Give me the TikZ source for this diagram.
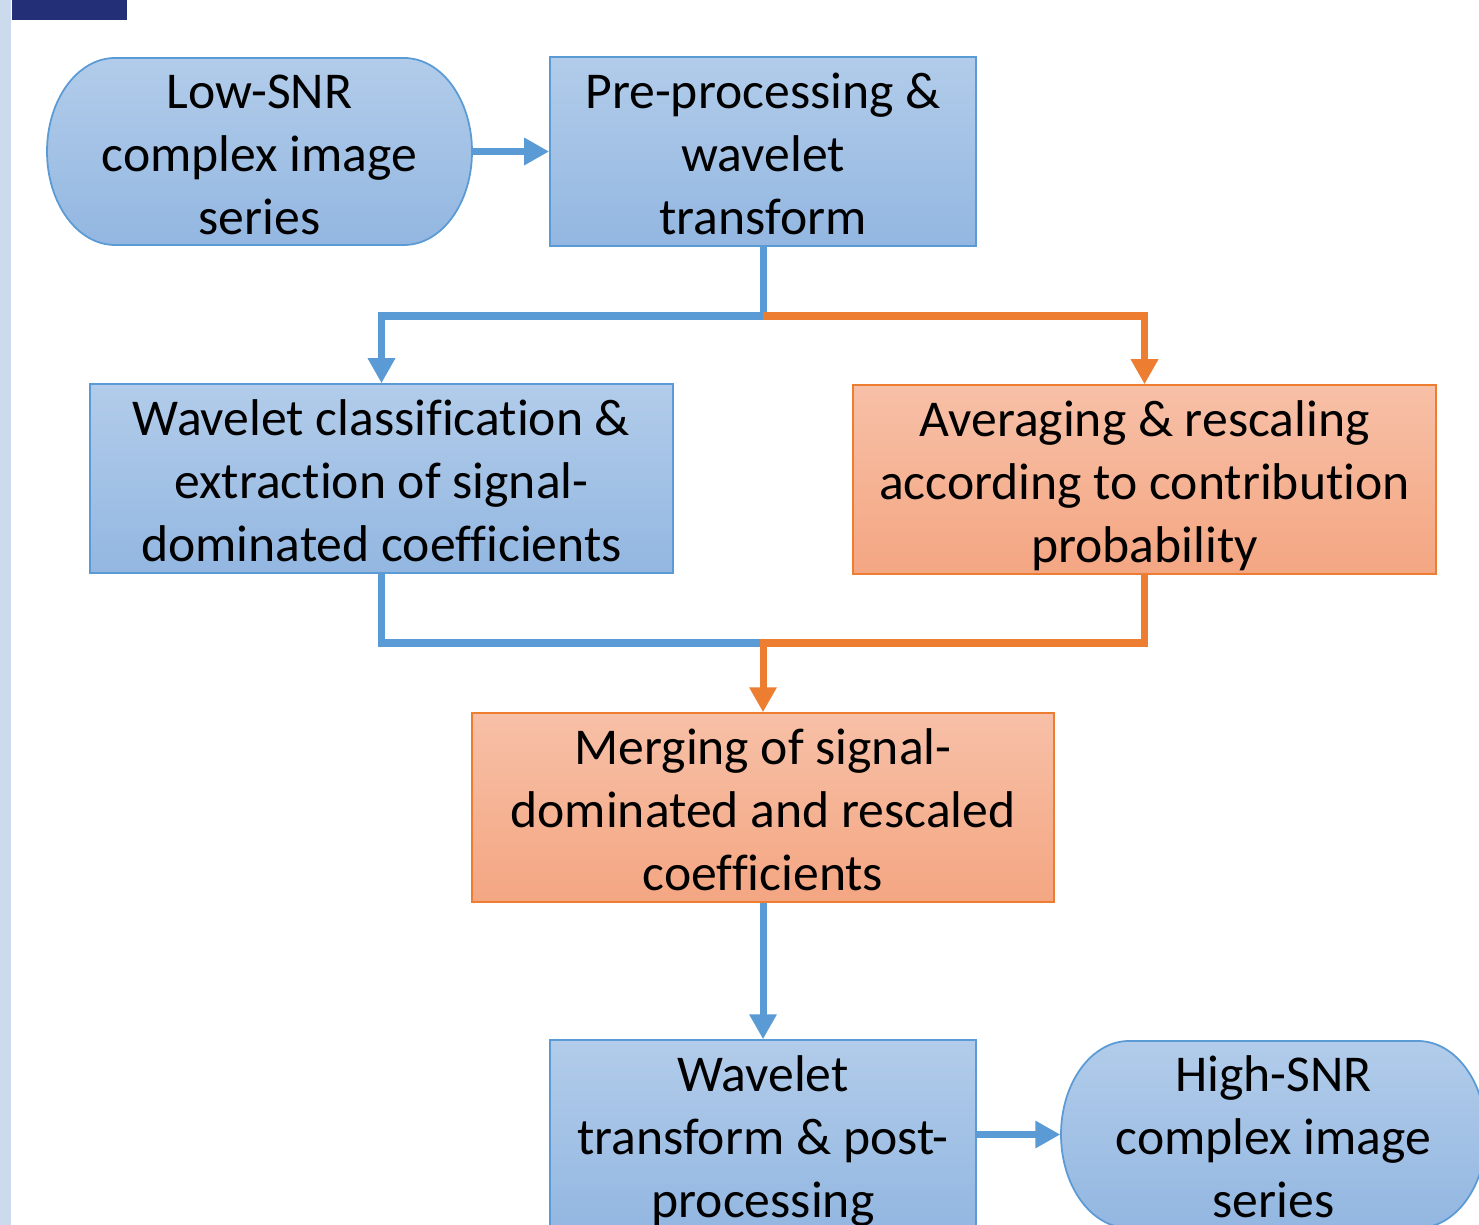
\documentclass[tikz,border=0pt]{standalone}
\usepackage{fontspec}
\usepackage{array}
\setmainfont{Carlito}[Ligatures={NoCommon,NoContextual}]
\usetikzlibrary{arrows.meta,calc}
\definecolor{bdblue}{HTML}{5B9BD5}
\definecolor{bdorange}{HTML}{ED7D31}
\definecolor{btop}{HTML}{B2CCEA}
\definecolor{bbot}{HTML}{93B7E1}
\definecolor{otop}{HTML}{F7C0A7}
\definecolor{obot}{HTML}{F4A682}
\definecolor{strip}{HTML}{CCDAEE}
\definecolor{navy}{HTML}{233077}
\newcommand{\mystrut}{\rule[-3.25pt]{0pt}{17.9pt}}
\newcommand{\ml}[1]{{\renewcommand\arraystretch{0}\setlength\extrarowheight{0pt}\begin{tabular}{@{}>{\mystrut}c@{}}#1\end{tabular}}}
\tikzset{
  txt/.style={font=\fontsize{14.7pt}{17.9pt}\selectfont, inner sep=0pt},
  bluebox/.style={txt, draw=bdblue, line width=0.5pt, top color=btop, bottom color=bbot, rectangle},
  orangebox/.style={txt, draw=bdorange, line width=0.5pt, top color=otop, bottom color=obot, rectangle},
  termnode/.style={txt, rectangle, draw=none},
  termshape/.style={draw=bdblue, line width=0.5pt, top color=btop, bottom color=bbot},
  bline/.style={draw=bdblue, line width=2pt},
  oline/.style={draw=bdorange, line width=2pt},
  tip/.style={-{Triangle[width=0.26cm,length=0.25cm]}},
}
\begin{document}
\begin{tikzpicture}
\clip (0,0) rectangle (14.79,-12.25);
\fill[white] (0,0) rectangle (14.79,-12.25);
\fill[strip] (0,0) rectangle (0.11,-12.25);
\fill[navy] (0.12,0) rectangle (1.27,-0.20);

% terminator shapes
\path[termshape] (1.15,-0.58) -- (4.04,-0.58) arc[start angle=90, end angle=-90, x radius=0.68, y radius=0.935] -- (1.15,-2.45) arc[start angle=270, end angle=90, x radius=0.68, y radius=0.935] -- cycle;
\path[termshape] (11.29,-10.41) -- (14.18,-10.41) arc[start angle=90, end angle=-90, x radius=0.68, y radius=0.935] -- (11.29,-12.28) arc[start angle=270, end angle=90, x radius=0.68, y radius=0.935] -- cycle;

\node[termnode, minimum width=4.25cm, minimum height=1.87cm] (A) at (2.595,-1.515) {\ml{Low-SNR\\complex image\\series}};
\node[bluebox, minimum width=4.26cm, minimum height=1.87cm] (B) at (7.63,-1.515) {\ml{Pre-processing \&\\wavelet\\transform}};
\node[bluebox, minimum width=5.83cm, minimum height=1.87cm] (C) at (3.815,-4.785) {\ml{Wavelet classification \&\\extraction of signal-\\dominated coefficients}};
\node[orangebox, minimum width=5.83cm, minimum height=1.87cm] (D) at (11.445,-4.795) {\ml{Averaging \& rescaling\\according to contribution\\probability}};
\node[orangebox, minimum width=5.82cm, minimum height=1.87cm] (E) at (7.63,-8.075) {\ml{Merging of signal-\\dominated and rescaled\\coefficients}};
\node[bluebox, minimum width=4.26cm, minimum height=1.87cm] (F) at (7.63,-11.345) {\ml{Wavelet\\transform \& post-\\processing}};
\node[termnode, minimum width=4.25cm, minimum height=1.87cm] (G) at (12.735,-11.345) {\ml{High-SNR\\complex image\\series}};

\coordinate (j1) at (7.63,-3.16);
\coordinate (j2) at (7.63,-6.43);

\draw[bline, tip] (A.east) -- (B.west);
\draw[bline, tip] (B.south) -- (j1) -| (C.north);
\draw[oline, tip] (j1) -| (D.north);
\draw[bline] (C.south) |- (j2);
\draw[oline, tip] (D.south) |- (j2) -- (E.north);
\draw[bline, tip] (E.south) -- (F.north);
\draw[bline, tip] (F.east) -- (G.west);
\end{tikzpicture}
\end{document}
